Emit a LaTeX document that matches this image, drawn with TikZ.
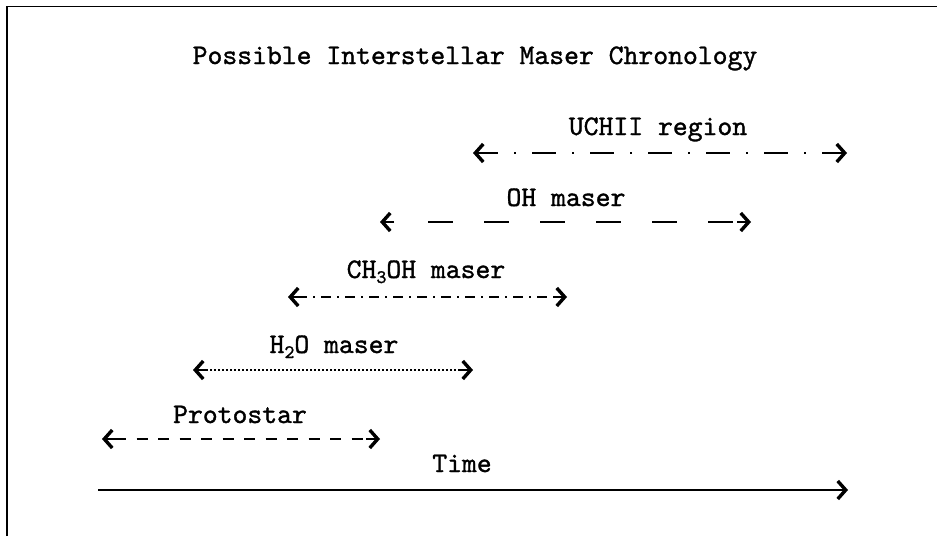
\documentclass[tikz,border=0pt]{standalone}
\usepackage{fontspec}
\newfontfamily\lblfont[FakeBold=1.2]{lmmono10-regular.otf}
\usetikzlibrary{arrows.meta}
\begin{document}
\begin{tikzpicture}[x=1pt,y=-1pt,
  lbl/.style={font=\lblfont\fontsize{28.3}{31}\selectfont, inner sep=0pt, anchor=base},
  headtip/.style={line width=1.7pt, solid, -{Straight Barb[length=8pt,width=18pt,line width=3.4pt]}},
  spanline/.style={line width=1.7pt}
]
\useasboundingbox (0,0) rectangle (937,536);
\draw[line width=1.5pt] (7,536) -- (7,6.5) -- (937,6.5);

\node[lbl] (title) at (475,64) {Possible Interstellar Maser Chronology};

% UCHII region
\node[lbl] (uchii) at (658,135) {UCHII region};
\coordinate (u1) at (473,153); \coordinate (u2) at (847,153);
\draw[headtip] ([xshift=14pt]u1) -- (u1);
\draw[headtip] ([xshift=-14pt]u2) -- (u2);
\draw[spanline, dash pattern=on 24pt off 16pt on 2pt off 16pt, dash phase=9pt] ([xshift=10pt]u1) -- ([xshift=-10pt]u2);

% OH maser
\node[lbl] (oh) at (566,206) {OH maser};
\coordinate (o1) at (380,222); \coordinate (o2) at (751,222);
\draw[headtip] ([xshift=14pt]o1) -- (o1);
\draw[headtip] ([xshift=-14pt]o2) -- (o2);
\draw[spanline, dash pattern=on 25pt off 31pt] ([xshift=48pt]o1) -- ([xshift=-13pt]o2);

% CH3OH maser
\node[lbl] (ch) at (426,278) {CH\raisebox{-5pt}{\fontsize{19}{19}\selectfont 3}OH maser};
\coordinate (c1) at (288,297); \coordinate (c2) at (567,297);
\draw[headtip] ([xshift=14pt]c1) -- (c1);
\draw[headtip] ([xshift=-14pt]c2) -- (c2);
\draw[spanline, dash pattern=on 10pt off 6pt on 2pt off 6pt] ([xshift=9pt]c1) -- ([xshift=-9pt]c2);

% H2O maser
\node[lbl] (h2o) at (334,353) {H\raisebox{-5pt}{\fontsize{19}{19}\selectfont 2}O maser};
\coordinate (h1) at (193,370); \coordinate (h2) at (473,370);
\draw[headtip] ([xshift=14pt]h1) -- (h1);
\draw[headtip] ([xshift=-14pt]h2) -- (h2);
\draw[line width=1.2pt, dash pattern=on 1.5pt off 2.5pt] ([xshift=9pt]h1) -- ([xshift=-9pt]h2);

% Protostar
\node[lbl] (proto) at (240,423) {Protostar};
\coordinate (p1) at (102,439); \coordinate (p2) at (380,439);
\draw[headtip] ([xshift=14pt]p1) -- (p1);
\draw[headtip] ([xshift=-14pt]p2) -- (p2);
\draw[spanline, dash pattern=on 11pt off 10.5pt, dash phase=-4pt] ([xshift=9pt]p1) -- ([xshift=-9pt]p2);

% Time
\node[lbl] (time) at (462,472) {Time};
\coordinate (t1) at (98,490); \coordinate (t2) at (848,490);
\draw[line width=1.9pt, -{Straight Barb[length=8pt,width=18pt,line width=3.4pt]}] (t1) -- (t2);
\end{tikzpicture}
\end{document}
